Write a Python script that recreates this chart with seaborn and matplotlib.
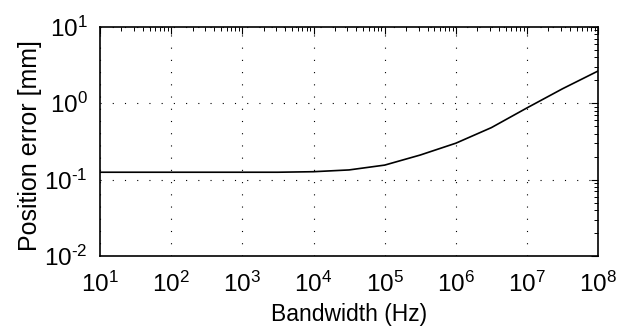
import numpy as np
import pandas as pd
import matplotlib
matplotlib.use("Agg")
import matplotlib.pyplot as plt
import seaborn as sns
from matplotlib.ticker import LogLocator, NullFormatter, FuncFormatter

# Data
bandwidth_hz = [1e1, 3.16e1, 1e2, 3.16e2, 1e3, 3.16e3, 1e4, 3.16e4, 1e5, 3.16e5,
                1e6, 3.16e6, 1e7, 3.16e7, 1e8]
position_error_mm = [0.125, 0.125, 0.125, 0.125, 0.125, 0.125, 0.127, 0.134, 0.155, 0.21,
                     0.30, 0.48, 0.87, 1.55, 2.65]

x_label = "Bandwidth (Hz)"
y_label = "Position error [mm]"

df = pd.DataFrame({"bw": bandwidth_hz, "err": position_error_mm})

sns.set_style("white")
plt.rcParams["font.family"] = ["Liberation Sans", "DejaVu Sans"]
plt.rcParams["mathtext.fontset"] = "custom"
plt.rcParams["mathtext.rm"] = "Liberation Sans"
plt.rcParams["mathtext.it"] = "Liberation Sans:italic"
plt.rcParams["mathtext.bf"] = "Liberation Sans:bold"


def log_label(v, p):
    e = int(round(np.log10(v)))
    if e < 0:
        return r"$\mathregular{10^{\text{-}%d}}$" % (-e)
    return r"$\mathregular{10^{%d}}$" % e


fig = plt.figure(figsize=(6.29, 3.28), dpi=100)
ax = fig.add_axes([0.159, 0.2195, 0.792, 0.6985])

sns.lineplot(data=df, x="bw", y="err", ax=ax, color="black", linewidth=1.2)

ax.set_xscale("log")
ax.set_yscale("log")
ax.set_xlim(1e1, 1e8)
ax.set_ylim(1e-2, 1e1)

ax.set_xticks([10.0 ** k for k in range(1, 9)])
ax.set_yticks([10.0 ** k for k in range(-2, 2)])
ax.xaxis.set_minor_locator(LogLocator(base=10, subs=np.arange(2, 10), numticks=20))
ax.yaxis.set_minor_locator(LogLocator(base=10, subs=np.arange(2, 10), numticks=20))
ax.xaxis.set_minor_formatter(NullFormatter())
ax.yaxis.set_minor_formatter(NullFormatter())

fmt = FuncFormatter(log_label)
ax.xaxis.set_major_formatter(fmt)
ax.yaxis.set_major_formatter(fmt)

ax.grid(True, which="major", color="black", linestyle=(0, (1, 10)), linewidth=0.8)
ax.tick_params(which="both", direction="in", top=True, right=True, colors="black",
               labelcolor="black")
ax.tick_params(which="major", length=5, width=0.8, labelsize=17.5)
ax.tick_params(axis="x", which="major", pad=11)
ax.tick_params(axis="y", which="major", pad=9)
ax.tick_params(which="minor", length=3, width=0.7)
for s in ax.spines.values():
    s.set_color("black")
    s.set_linewidth(1.2)

ax.set_xlabel(x_label, fontsize=16.5, labelpad=5, color="black")
ax.set_ylabel(y_label, fontsize=18, color="black")
ax.yaxis.set_label_coords(-0.116, 0.48)

fig.savefig("out.png", dpi=100, facecolor="white")
